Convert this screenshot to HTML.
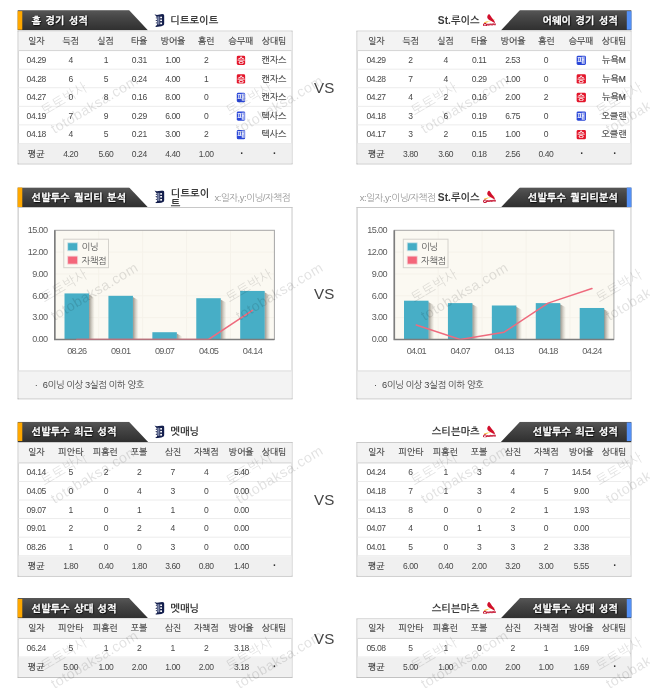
<!DOCTYPE html>
<html lang="ko"><head><meta charset="utf-8"><title>선발투수 분석</title>
<style>
html,body{margin:0;padding:0;background:#fff;}
body{width:650px;height:694px;overflow:hidden;position:relative;font-family:"Liberation Sans","NanumGothic","Noto Sans CJK KR",sans-serif;}
#w{position:absolute;left:0;top:0;width:700px;height:748px;transform:scale(.928571);transform-origin:0 0;}
.p{position:absolute;width:296.5px;}
.tab{position:absolute;left:0;top:-.3px;width:296.5px;height:21.9px;}
.tab i{position:absolute;top:0;height:21.9px;background:linear-gradient(#575757,#484848 30%,#2f2f2f);}
.l .tab i{left:0;width:141px;clip-path:polygon(0 0,120.4px 0,141px 21.9px,0 21.9px);}
.r .tab i{right:0;width:141px;clip-path:polygon(20.6px 0,141px 0,141px 21.9px,0 21.9px);}
.tab b{position:absolute;top:.9px;width:4.9px;height:20.5px;}
.l .tab b{left:.5px;background:#ffa800;}
.r .tab b{right:.4px;background:#5390f6;}
.tab em{position:absolute;top:0;height:21.6px;line-height:22.4px;font-style:normal;font-weight:bold;font-size:10.6px;color:#fff;white-space:nowrap;text-shadow:0 0 2px #000,1px 1px 1px #111;letter-spacing:.3px;word-spacing:1.5px;-webkit-text-stroke:.35px #fff;}
.l .tab em{left:15.6px;}
.r .tab em{right:14.8px;}
.tm{position:absolute;top:0;height:21.6px;line-height:22px;font-weight:bold;font-size:11px;color:#3a3a3a;white-space:nowrap;}
.l .tm{left:164.9px;}
.r .tm{right:163.8px;}
.lg{position:absolute;top:3.5px;}
.l .lg{left:147.3px;}
.r .lg{right:146px;}
.t{position:absolute;left:0;top:21.5px;width:294.5px;border:1px solid #b9b9b9;border-top-color:#c4c4c4;border-right-color:#c4c4c4;background:#fff;}
.t div{position:relative;box-sizing:border-box;}
.h{height:21.8px;background:#f3f3f3;border-bottom:1px solid #d2d2d2;}
.d{height:20px;border-bottom:1px solid #ebebeb;}
.a{height:21px;background:#f0f0f0;}
.t span{position:absolute;top:0;width:60px;margin-left:-30px;text-align:center;font-size:9.6px;color:#404040;white-space:nowrap;-webkit-text-stroke:.18px #404040;}
.t .dt{font-size:11px;font-weight:bold;line-height:21px;padding-left:1px;-webkit-text-stroke:0;color:#333;}
.t i{font-style:normal;font-size:9.1px;}
.t .n{font-size:9.7px;letter-spacing:-.5px;transform:scaleX(.95);color:#484848;-webkit-text-stroke:0;}
.h span{line-height:20.2px;color:#444;font-size:9.5px;}
.d span{line-height:19.5px;}
.a span{line-height:21px;}
.t u{position:absolute;top:4.5px;width:9.4px;height:9.8px;margin-left:-4.7px;border-radius:1.5px;text-decoration:none;color:#fff;font-size:8.4px;line-height:10.8px;text-align:center;font-weight:bold;overflow:hidden;}
.w{background:#e3162b;}
.x{background:#2a47d8;}
.vs{position:absolute;left:325px;width:50px;margin-left:-.5px;text-align:center;font-size:16.3px;line-height:20px;color:#444;font-family:"Liberation Sans",sans-serif;}
.box{position:absolute;left:0;top:21.5px;width:294.5px;height:205.1px;border:1px solid #b9b9b9;border-top-color:#c4c4c4;border-right-color:#c4c4c4;background:#fff;}
.ft{position:absolute;left:0;bottom:0;width:100%;height:29.5px;background:#f3f3f3;border-top:1px solid #dcdcdc;font-size:10px;line-height:29.5px;color:#444;letter-spacing:-.45px;}
.ft s{position:absolute;left:18px;text-decoration:none;}
.ft span{position:absolute;left:26.5px;white-space:nowrap;}
.xy{position:absolute;top:0;height:21.6px;line-height:22px;font-size:10.2px;color:#9a9a9a;white-space:nowrap;letter-spacing:-.55px;}
.l .xy{left:212.5px;}
.r .xy{left:3.5px;}
.tm2{position:absolute;font-weight:bold;font-size:11px;color:#3a3a3a;line-height:10.8px;word-break:break-all;}
#c{position:absolute;left:0;top:0;}
#c text{font-family:"Liberation Sans","NanumGothic","Noto Sans CJK KR",sans-serif;}
.wm{position:absolute;color:#000;opacity:.13;white-space:nowrap;transform-origin:0 0;transform:rotate(-34deg);font-size:13px;line-height:16px;}
</style></head>
<body>
<div id="w">
<div class="p l" style="left:18.5px;top:11.2px"><div class="tab"><i></i><b></b><em>홈 경기 성적</em></div><svg class="lg" width="11.2" height="14" viewBox="0 0 240 300"><path d="M6 6 L64 22 L186 4 C226 4 240 32 240 64 L240 214 C240 250 206 272 166 284 L46 299 L26 286 L66 258 L66 222 L30 208 L66 192 L66 166 L24 150 L66 132 L66 106 L30 92 L66 76 Z" fill="#141f4d"/><rect x="76" y="58" width="46" height="186" fill="#98a0bd"/><rect x="96" y="58" width="8" height="186" fill="#4a5580"/><rect x="140" y="64" width="42" height="36" fill="#fff"/><rect x="140" y="130" width="42" height="36" fill="#fff"/><rect x="140" y="198" width="42" height="40" fill="#fff"/></svg><div class="tm">디트로이트</div><div class="t"><div class="h"><span style="left:19.55px">일자</span><span style="left:56.70px">득점</span><span style="left:94.05px">실점</span><span style="left:130.15px">타율</span><span style="left:166.75px">방어율</span><span style="left:202.75px">홈런</span><span style="left:240.10px">승무패</span><span style="left:275.45px">상대팀</span></div><div class="d"><span class="n" style="left:19.55px">04.29</span><span class="n" style="left:56.70px">4</span><span class="n" style="left:94.05px">1</span><span class="n" style="left:130.15px">0.31</span><span class="n" style="left:166.75px">1.00</span><span class="n" style="left:202.75px">2</span><u class="w" style="left:240.10px">승</u><span style="left:275.45px">캔자스</span></div><div class="d"><span class="n" style="left:19.55px">04.28</span><span class="n" style="left:56.70px">6</span><span class="n" style="left:94.05px">5</span><span class="n" style="left:130.15px">0.24</span><span class="n" style="left:166.75px">4.00</span><span class="n" style="left:202.75px">1</span><u class="w" style="left:240.10px">승</u><span style="left:275.45px">캔자스</span></div><div class="d"><span class="n" style="left:19.55px">04.27</span><span class="n" style="left:56.70px">0</span><span class="n" style="left:94.05px">8</span><span class="n" style="left:130.15px">0.16</span><span class="n" style="left:166.75px">8.00</span><span class="n" style="left:202.75px">0</span><u class="x" style="left:240.10px">패</u><span style="left:275.45px">캔자스</span></div><div class="d"><span class="n" style="left:19.55px">04.19</span><span class="n" style="left:56.70px">7</span><span class="n" style="left:94.05px">9</span><span class="n" style="left:130.15px">0.29</span><span class="n" style="left:166.75px">6.00</span><span class="n" style="left:202.75px">0</span><u class="x" style="left:240.10px">패</u><span style="left:275.45px">텍사스</span></div><div class="d"><span class="n" style="left:19.55px">04.18</span><span class="n" style="left:56.70px">4</span><span class="n" style="left:94.05px">5</span><span class="n" style="left:130.15px">0.21</span><span class="n" style="left:166.75px">3.00</span><span class="n" style="left:202.75px">2</span><u class="x" style="left:240.10px">패</u><span style="left:275.45px">텍사스</span></div><div class="a"><span style="left:19.55px">평균</span><span class="n" style="left:56.70px">4.20</span><span class="n" style="left:94.05px">5.60</span><span class="n" style="left:130.15px">0.24</span><span class="n" style="left:166.75px">4.40</span><span class="n" style="left:202.75px">1.00</span><span class="dt" style="left:240.10px">·</span><span class="dt" style="left:275.45px">·</span></div></div></div>
<div class="p r" style="left:383.9px;top:11.2px"><div class="tab"><i></i><b></b><em>어웨이 경기 성적</em></div><svg class="lg" width="14.4" height="13.5" viewBox="0 0 310 290"><path d="M28 205 L272 128" stroke="#f4d94a" stroke-width="12" fill="none"/><path d="M28 205 L110 180" stroke="#f2ae1d" stroke-width="18" fill="none"/><path d="M146 2 C122 12 100 40 102 78 C104 108 132 130 164 148 C204 170 240 190 284 216 L268 164 C250 138 226 110 208 88 C188 60 172 30 146 2 Z" fill="#d10f2c"/><path d="M70 224 C22 210 -6 262 36 280 C60 288 80 274 88 258" stroke="#c4122f" stroke-width="24" fill="none" stroke-linecap="round"/><path d="M84 252 C110 234 130 262 156 246 C180 232 200 256 226 242 C250 230 272 248 298 240" stroke="#c4122f" stroke-width="42" fill="none" stroke-linecap="round" opacity=".85"/></svg><div class="tm">St.루이스</div><div class="t"><div class="h"><span style="left:20.40px">일자</span><span style="left:57.55px">득점</span><span style="left:94.90px">실점</span><span style="left:131.00px">타율</span><span style="left:167.60px">방어율</span><span style="left:203.60px">홈런</span><span style="left:240.95px">승무패</span><span style="left:276.30px">상대팀</span></div><div class="d"><span class="n" style="left:20.40px">04.29</span><span class="n" style="left:57.55px">2</span><span class="n" style="left:94.90px">4</span><span class="n" style="left:131.00px">0.11</span><span class="n" style="left:167.60px">2.53</span><span class="n" style="left:203.60px">0</span><u class="x" style="left:240.95px">패</u><span style="left:276.30px">뉴욕<i>M</i></span></div><div class="d"><span class="n" style="left:20.40px">04.28</span><span class="n" style="left:57.55px">7</span><span class="n" style="left:94.90px">4</span><span class="n" style="left:131.00px">0.29</span><span class="n" style="left:167.60px">1.00</span><span class="n" style="left:203.60px">0</span><u class="w" style="left:240.95px">승</u><span style="left:276.30px">뉴욕<i>M</i></span></div><div class="d"><span class="n" style="left:20.40px">04.27</span><span class="n" style="left:57.55px">4</span><span class="n" style="left:94.90px">2</span><span class="n" style="left:131.00px">0.16</span><span class="n" style="left:167.60px">2.00</span><span class="n" style="left:203.60px">2</span><u class="w" style="left:240.95px">승</u><span style="left:276.30px">뉴욕<i>M</i></span></div><div class="d"><span class="n" style="left:20.40px">04.18</span><span class="n" style="left:57.55px">3</span><span class="n" style="left:94.90px">6</span><span class="n" style="left:131.00px">0.19</span><span class="n" style="left:167.60px">6.75</span><span class="n" style="left:203.60px">0</span><u class="x" style="left:240.95px">패</u><span style="left:276.30px">오클랜</span></div><div class="d"><span class="n" style="left:20.40px">04.17</span><span class="n" style="left:57.55px">3</span><span class="n" style="left:94.90px">2</span><span class="n" style="left:131.00px">0.15</span><span class="n" style="left:167.60px">1.00</span><span class="n" style="left:203.60px">0</span><u class="w" style="left:240.95px">승</u><span style="left:276.30px">오클랜</span></div><div class="a"><span style="left:20.40px">평균</span><span class="n" style="left:57.55px">3.80</span><span class="n" style="left:94.90px">3.60</span><span class="n" style="left:131.00px">0.18</span><span class="n" style="left:167.60px">2.56</span><span class="n" style="left:203.60px">0.40</span><span class="dt" style="left:240.95px">·</span><span class="dt" style="left:276.30px">·</span></div></div></div>
<div class="p l" style="left:18.5px;top:454.4px"><div class="tab"><i></i><b></b><em>선발투수 최근 성적</em></div><svg class="lg" width="11.2" height="14" viewBox="0 0 240 300"><path d="M6 6 L64 22 L186 4 C226 4 240 32 240 64 L240 214 C240 250 206 272 166 284 L46 299 L26 286 L66 258 L66 222 L30 208 L66 192 L66 166 L24 150 L66 132 L66 106 L30 92 L66 76 Z" fill="#141f4d"/><rect x="76" y="58" width="46" height="186" fill="#98a0bd"/><rect x="96" y="58" width="8" height="186" fill="#4a5580"/><rect x="140" y="64" width="42" height="36" fill="#fff"/><rect x="140" y="130" width="42" height="36" fill="#fff"/><rect x="140" y="198" width="42" height="40" fill="#fff"/></svg><div class="tm">멧매닝</div><div class="t"><div class="h"><span style="left:19.55px">일자</span><span style="left:56.70px">피안타</span><span style="left:94.05px">피홈런</span><span style="left:130.15px">포볼</span><span style="left:166.75px">삼진</span><span style="left:202.75px">자책점</span><span style="left:240.10px">방어율</span><span style="left:275.45px">상대팀</span></div><div class="d"><span class="n" style="left:19.55px">04.14</span><span class="n" style="left:56.70px">5</span><span class="n" style="left:94.05px">2</span><span class="n" style="left:130.15px">2</span><span class="n" style="left:166.75px">7</span><span class="n" style="left:202.75px">4</span><span class="n" style="left:240.10px">5.40</span></div><div class="d"><span class="n" style="left:19.55px">04.05</span><span class="n" style="left:56.70px">0</span><span class="n" style="left:94.05px">0</span><span class="n" style="left:130.15px">4</span><span class="n" style="left:166.75px">3</span><span class="n" style="left:202.75px">0</span><span class="n" style="left:240.10px">0.00</span></div><div class="d"><span class="n" style="left:19.55px">09.07</span><span class="n" style="left:56.70px">1</span><span class="n" style="left:94.05px">0</span><span class="n" style="left:130.15px">1</span><span class="n" style="left:166.75px">1</span><span class="n" style="left:202.75px">0</span><span class="n" style="left:240.10px">0.00</span></div><div class="d"><span class="n" style="left:19.55px">09.01</span><span class="n" style="left:56.70px">2</span><span class="n" style="left:94.05px">0</span><span class="n" style="left:130.15px">2</span><span class="n" style="left:166.75px">4</span><span class="n" style="left:202.75px">0</span><span class="n" style="left:240.10px">0.00</span></div><div class="d"><span class="n" style="left:19.55px">08.26</span><span class="n" style="left:56.70px">1</span><span class="n" style="left:94.05px">0</span><span class="n" style="left:130.15px">0</span><span class="n" style="left:166.75px">3</span><span class="n" style="left:202.75px">0</span><span class="n" style="left:240.10px">0.00</span></div><div class="a"><span style="left:19.55px">평균</span><span class="n" style="left:56.70px">1.80</span><span class="n" style="left:94.05px">0.40</span><span class="n" style="left:130.15px">1.80</span><span class="n" style="left:166.75px">3.60</span><span class="n" style="left:202.75px">0.80</span><span class="n" style="left:240.10px">1.40</span><span class="dt" style="left:275.45px">·</span></div></div></div>
<div class="p r" style="left:383.9px;top:454.4px"><div class="tab"><i></i><b></b><em>선발투수 최근 성적</em></div><svg class="lg" width="14.4" height="13.5" viewBox="0 0 310 290"><path d="M28 205 L272 128" stroke="#f4d94a" stroke-width="12" fill="none"/><path d="M28 205 L110 180" stroke="#f2ae1d" stroke-width="18" fill="none"/><path d="M146 2 C122 12 100 40 102 78 C104 108 132 130 164 148 C204 170 240 190 284 216 L268 164 C250 138 226 110 208 88 C188 60 172 30 146 2 Z" fill="#d10f2c"/><path d="M70 224 C22 210 -6 262 36 280 C60 288 80 274 88 258" stroke="#c4122f" stroke-width="24" fill="none" stroke-linecap="round"/><path d="M84 252 C110 234 130 262 156 246 C180 232 200 256 226 242 C250 230 272 248 298 240" stroke="#c4122f" stroke-width="42" fill="none" stroke-linecap="round" opacity=".85"/></svg><div class="tm">스티븐마츠</div><div class="t"><div class="h"><span style="left:20.40px">일자</span><span style="left:57.55px">피안타</span><span style="left:94.90px">피홈런</span><span style="left:131.00px">포볼</span><span style="left:167.60px">삼진</span><span style="left:203.60px">자책점</span><span style="left:240.95px">방어율</span><span style="left:276.30px">상대팀</span></div><div class="d"><span class="n" style="left:20.40px">04.24</span><span class="n" style="left:57.55px">6</span><span class="n" style="left:94.90px">1</span><span class="n" style="left:131.00px">3</span><span class="n" style="left:167.60px">4</span><span class="n" style="left:203.60px">7</span><span class="n" style="left:240.95px">14.54</span></div><div class="d"><span class="n" style="left:20.40px">04.18</span><span class="n" style="left:57.55px">7</span><span class="n" style="left:94.90px">1</span><span class="n" style="left:131.00px">3</span><span class="n" style="left:167.60px">4</span><span class="n" style="left:203.60px">5</span><span class="n" style="left:240.95px">9.00</span></div><div class="d"><span class="n" style="left:20.40px">04.13</span><span class="n" style="left:57.55px">8</span><span class="n" style="left:94.90px">0</span><span class="n" style="left:131.00px">0</span><span class="n" style="left:167.60px">2</span><span class="n" style="left:203.60px">1</span><span class="n" style="left:240.95px">1.93</span></div><div class="d"><span class="n" style="left:20.40px">04.07</span><span class="n" style="left:57.55px">4</span><span class="n" style="left:94.90px">0</span><span class="n" style="left:131.00px">1</span><span class="n" style="left:167.60px">3</span><span class="n" style="left:203.60px">0</span><span class="n" style="left:240.95px">0.00</span></div><div class="d"><span class="n" style="left:20.40px">04.01</span><span class="n" style="left:57.55px">5</span><span class="n" style="left:94.90px">0</span><span class="n" style="left:131.00px">3</span><span class="n" style="left:167.60px">3</span><span class="n" style="left:203.60px">2</span><span class="n" style="left:240.95px">3.38</span></div><div class="a"><span style="left:20.40px">평균</span><span class="n" style="left:57.55px">6.00</span><span class="n" style="left:94.90px">0.40</span><span class="n" style="left:131.00px">2.00</span><span class="n" style="left:167.60px">3.20</span><span class="n" style="left:203.60px">3.00</span><span class="n" style="left:240.95px">5.55</span><span class="dt" style="left:276.30px">·</span></div></div></div>
<div class="p l" style="left:18.5px;top:644.2px"><div class="tab"><i></i><b></b><em>선발투수 상대 성적</em></div><svg class="lg" width="11.2" height="14" viewBox="0 0 240 300"><path d="M6 6 L64 22 L186 4 C226 4 240 32 240 64 L240 214 C240 250 206 272 166 284 L46 299 L26 286 L66 258 L66 222 L30 208 L66 192 L66 166 L24 150 L66 132 L66 106 L30 92 L66 76 Z" fill="#141f4d"/><rect x="76" y="58" width="46" height="186" fill="#98a0bd"/><rect x="96" y="58" width="8" height="186" fill="#4a5580"/><rect x="140" y="64" width="42" height="36" fill="#fff"/><rect x="140" y="130" width="42" height="36" fill="#fff"/><rect x="140" y="198" width="42" height="40" fill="#fff"/></svg><div class="tm">멧매닝</div><div class="t"><div class="h"><span style="left:19.55px">일자</span><span style="left:56.70px">피안타</span><span style="left:94.05px">피홈런</span><span style="left:130.15px">포볼</span><span style="left:166.75px">삼진</span><span style="left:202.75px">자책점</span><span style="left:240.10px">방어율</span><span style="left:275.45px">상대팀</span></div><div class="d"><span class="n" style="left:19.55px">06.24</span><span class="n" style="left:56.70px">5</span><span class="n" style="left:94.05px">1</span><span class="n" style="left:130.15px">2</span><span class="n" style="left:166.75px">1</span><span class="n" style="left:202.75px">2</span><span class="n" style="left:240.10px">3.18</span></div><div class="a"><span style="left:19.55px">평균</span><span class="n" style="left:56.70px">5.00</span><span class="n" style="left:94.05px">1.00</span><span class="n" style="left:130.15px">2.00</span><span class="n" style="left:166.75px">1.00</span><span class="n" style="left:202.75px">2.00</span><span class="n" style="left:240.10px">3.18</span><span class="dt" style="left:275.45px">·</span></div></div></div>
<div class="p r" style="left:383.9px;top:644.2px"><div class="tab"><i></i><b></b><em>선발투수 상대 성적</em></div><svg class="lg" width="14.4" height="13.5" viewBox="0 0 310 290"><path d="M28 205 L272 128" stroke="#f4d94a" stroke-width="12" fill="none"/><path d="M28 205 L110 180" stroke="#f2ae1d" stroke-width="18" fill="none"/><path d="M146 2 C122 12 100 40 102 78 C104 108 132 130 164 148 C204 170 240 190 284 216 L268 164 C250 138 226 110 208 88 C188 60 172 30 146 2 Z" fill="#d10f2c"/><path d="M70 224 C22 210 -6 262 36 280 C60 288 80 274 88 258" stroke="#c4122f" stroke-width="24" fill="none" stroke-linecap="round"/><path d="M84 252 C110 234 130 262 156 246 C180 232 200 256 226 242 C250 230 272 248 298 240" stroke="#c4122f" stroke-width="42" fill="none" stroke-linecap="round" opacity=".85"/></svg><div class="tm">스티븐마츠</div><div class="t"><div class="h"><span style="left:20.40px">일자</span><span style="left:57.55px">피안타</span><span style="left:94.90px">피홈런</span><span style="left:131.00px">포볼</span><span style="left:167.60px">삼진</span><span style="left:203.60px">자책점</span><span style="left:240.95px">방어율</span><span style="left:276.30px">상대팀</span></div><div class="d"><span class="n" style="left:20.40px">05.08</span><span class="n" style="left:57.55px">5</span><span class="n" style="left:94.90px">1</span><span class="n" style="left:131.00px">0</span><span class="n" style="left:167.60px">2</span><span class="n" style="left:203.60px">1</span><span class="n" style="left:240.95px">1.69</span></div><div class="a"><span style="left:20.40px">평균</span><span class="n" style="left:57.55px">5.00</span><span class="n" style="left:94.90px">1.00</span><span class="n" style="left:131.00px">0.00</span><span class="n" style="left:167.60px">2.00</span><span class="n" style="left:203.60px">1.00</span><span class="n" style="left:240.95px">1.69</span><span class="dt" style="left:276.30px">·</span></div></div></div>
<div class="p l" style="left:18.5px;top:201.9px"><div class="tab"><i></i><b></b><em>선발투수 퀄리티 분석</em></div><svg class="lg" width="11.2" height="14" viewBox="0 0 240 300"><path d="M6 6 L64 22 L186 4 C226 4 240 32 240 64 L240 214 C240 250 206 272 166 284 L46 299 L26 286 L66 258 L66 222 L30 208 L66 192 L66 166 L24 150 L66 132 L66 106 L30 92 L66 76 Z" fill="#141f4d"/><rect x="76" y="58" width="46" height="186" fill="#98a0bd"/><rect x="96" y="58" width="8" height="186" fill="#4a5580"/><rect x="140" y="64" width="42" height="36" fill="#fff"/><rect x="140" y="130" width="42" height="36" fill="#fff"/><rect x="140" y="198" width="42" height="40" fill="#fff"/></svg><div class="tm2" style="left:165.5px;top:.9px;width:46px;">디트로이트</div><div class="xy">x:일자,y:이닝/자책점</div><div class="box"><div class="ft"><s>·</s><span>6이닝 이상 3실점 이하 양호</span></div></div></div>
<div class="p r" style="left:383.9px;top:201.9px"><div class="tab"><i></i><b></b><em>선발투수 퀄리티분석</em></div><svg class="lg" width="14.4" height="13.5" viewBox="0 0 310 290"><path d="M28 205 L272 128" stroke="#f4d94a" stroke-width="12" fill="none"/><path d="M28 205 L110 180" stroke="#f2ae1d" stroke-width="18" fill="none"/><path d="M146 2 C122 12 100 40 102 78 C104 108 132 130 164 148 C204 170 240 190 284 216 L268 164 C250 138 226 110 208 88 C188 60 172 30 146 2 Z" fill="#d10f2c"/><path d="M70 224 C22 210 -6 262 36 280 C60 288 80 274 88 258" stroke="#c4122f" stroke-width="24" fill="none" stroke-linecap="round"/><path d="M84 252 C110 234 130 262 156 246 C180 232 200 256 226 242 C250 230 272 248 298 240" stroke="#c4122f" stroke-width="42" fill="none" stroke-linecap="round" opacity=".85"/></svg><div class="tm">St.루이스</div><div class="xy">x:일자,y:이닝/자책점</div><div class="box"><div class="ft"><s>·</s><span>6이닝 이상 3실점 이하 양호</span></div></div></div>
<div class="vs" style="left:324.6px;top:83.6px">VS</div>
<div class="vs" style="left:324.6px;top:305.9px">VS</div>
<div class="vs" style="left:324.6px;top:527.5px">VS</div>
<div class="vs" style="left:324.6px;top:678.0px">VS</div>
</div>
<svg id="c" width="650" height="694" viewBox="0 0 650 694"><defs><linearGradient id="sh" x1="0" y1="0" x2="1" y2="0"><stop offset="0" stop-color="#5a544a" stop-opacity=".62"/><stop offset=".35" stop-color="#7d766a" stop-opacity=".45"/><stop offset=".7" stop-color="#a8a194" stop-opacity=".25"/><stop offset="1" stop-color="#c8c2b6" stop-opacity="0"/></linearGradient></defs><rect x="54.80" y="230.30" width="219.60" height="109.20" fill="#fbf9f2"/><line x1="98.72" y1="230.30" x2="98.72" y2="339.50" stroke="#f5f2ea" stroke-width="1"/><line x1="54.80" y1="317.66" x2="274.40" y2="317.66" stroke="#f5f2ea" stroke-width="1"/><line x1="142.64" y1="230.30" x2="142.64" y2="339.50" stroke="#f5f2ea" stroke-width="1"/><line x1="54.80" y1="295.82" x2="274.40" y2="295.82" stroke="#f5f2ea" stroke-width="1"/><line x1="186.56" y1="230.30" x2="186.56" y2="339.50" stroke="#f5f2ea" stroke-width="1"/><line x1="54.80" y1="273.98" x2="274.40" y2="273.98" stroke="#f5f2ea" stroke-width="1"/><line x1="230.48" y1="230.30" x2="230.48" y2="339.50" stroke="#f5f2ea" stroke-width="1"/><line x1="54.80" y1="252.14" x2="274.40" y2="252.14" stroke="#f5f2ea" stroke-width="1"/><rect x="63.80" y="239.20" width="44.7" height="28.5" fill="#fbf9f2" stroke="#d4d2cc" stroke-width="1"/><rect x="67.70" y="242.8" width="10" height="8" fill="#43adc5" stroke="#cfe3e8" stroke-width=".8"/><rect x="67.70" y="256.1" width="10" height="8" fill="#f4667a" stroke="#f3d6da" stroke-width=".8"/><text x="81.40" y="250.3" font-size="9.2" fill="#555" letter-spacing="-.4">이닝</text><text x="81.40" y="263.6" font-size="9.2" fill="#555" letter-spacing="-.4">자책점</text><polygon points="88.81,294.62 94.81,297.92 94.81,339.50 88.81,339.50" fill="url(#sh)"/><rect x="64.51" y="293.42" width="24.5" height="46.08" fill="#47aec6"/><polygon points="132.73,297.02 138.73,300.32 138.73,339.50 132.73,339.50" fill="url(#sh)"/><rect x="108.43" y="295.82" width="24.5" height="43.68" fill="#47aec6"/><polygon points="176.65,333.42 182.65,336.72 182.65,339.50 176.65,339.50" fill="url(#sh)"/><rect x="152.35" y="332.22" width="24.5" height="7.28" fill="#47aec6"/><polygon points="220.57,299.42 226.57,302.72 226.57,339.50 220.57,339.50" fill="url(#sh)"/><rect x="196.27" y="298.22" width="24.5" height="41.28" fill="#47aec6"/><polygon points="264.49,292.14 270.49,295.44 270.49,339.50 264.49,339.50" fill="url(#sh)"/><rect x="240.19" y="290.94" width="24.5" height="48.56" fill="#47aec6"/><rect x="54.80" y="230.30" width="219.60" height="109.20" fill="none" stroke="#a6a6a6" stroke-width="1"/><path d="M54.80 230.30 V339.50 H274.40" fill="none" stroke="#7d7d7d" stroke-width="1.6"/><svg x="54.80" y="230.30" width="219.60" height="109.20" viewBox="54.80 230.30 219.60 109.20"><path d="M76.76 339.50 L120.68 339.50 L164.60 339.50 L208.52 339.50 L252.44 310.38" fill="none" stroke="#ee6b7e" stroke-width="1.5" stroke-linejoin="round" stroke-linecap="round"/></svg><text x="47.50" y="342.20" text-anchor="end" font-size="9.1" fill="#5c5c5c" letter-spacing="-.6">0.00</text><text x="47.50" y="320.36" text-anchor="end" font-size="9.1" fill="#5c5c5c" letter-spacing="-.6">3.00</text><text x="47.50" y="298.52" text-anchor="end" font-size="9.1" fill="#5c5c5c" letter-spacing="-.6">6.00</text><text x="47.50" y="276.68" text-anchor="end" font-size="9.1" fill="#5c5c5c" letter-spacing="-.6">9.00</text><text x="47.50" y="254.84" text-anchor="end" font-size="9.1" fill="#5c5c5c" letter-spacing="-.6">12.00</text><text x="47.50" y="233.00" text-anchor="end" font-size="9.1" fill="#5c5c5c" letter-spacing="-.6">15.00</text><text x="76.76" y="354.3" text-anchor="middle" font-size="9.2" fill="#5c5c5c" letter-spacing="-.75">08.26</text><text x="120.68" y="354.3" text-anchor="middle" font-size="9.2" fill="#5c5c5c" letter-spacing="-.75">09.01</text><text x="164.60" y="354.3" text-anchor="middle" font-size="9.2" fill="#5c5c5c" letter-spacing="-.75">09.07</text><text x="208.52" y="354.3" text-anchor="middle" font-size="9.2" fill="#5c5c5c" letter-spacing="-.75">04.05</text><text x="252.44" y="354.3" text-anchor="middle" font-size="9.2" fill="#5c5c5c" letter-spacing="-.75">04.14</text><rect x="394.30" y="230.30" width="219.60" height="109.20" fill="#fbf9f2"/><line x1="438.22" y1="230.30" x2="438.22" y2="339.50" stroke="#f5f2ea" stroke-width="1"/><line x1="394.30" y1="317.66" x2="613.90" y2="317.66" stroke="#f5f2ea" stroke-width="1"/><line x1="482.14" y1="230.30" x2="482.14" y2="339.50" stroke="#f5f2ea" stroke-width="1"/><line x1="394.30" y1="295.82" x2="613.90" y2="295.82" stroke="#f5f2ea" stroke-width="1"/><line x1="526.06" y1="230.30" x2="526.06" y2="339.50" stroke="#f5f2ea" stroke-width="1"/><line x1="394.30" y1="273.98" x2="613.90" y2="273.98" stroke="#f5f2ea" stroke-width="1"/><line x1="569.98" y1="230.30" x2="569.98" y2="339.50" stroke="#f5f2ea" stroke-width="1"/><line x1="394.30" y1="252.14" x2="613.90" y2="252.14" stroke="#f5f2ea" stroke-width="1"/><rect x="403.30" y="239.20" width="44.7" height="28.5" fill="#fbf9f2" stroke="#d4d2cc" stroke-width="1"/><rect x="407.20" y="242.8" width="10" height="8" fill="#43adc5" stroke="#cfe3e8" stroke-width=".8"/><rect x="407.20" y="256.1" width="10" height="8" fill="#f4667a" stroke="#f3d6da" stroke-width=".8"/><text x="420.90" y="250.3" font-size="9.2" fill="#555" letter-spacing="-.4">이닝</text><text x="420.90" y="263.6" font-size="9.2" fill="#555" letter-spacing="-.4">자책점</text><polygon points="428.31,301.90 434.31,305.20 434.31,339.50 428.31,339.50" fill="url(#sh)"/><rect x="404.01" y="300.70" width="24.5" height="38.80" fill="#47aec6"/><polygon points="472.23,304.30 478.23,307.60 478.23,339.50 472.23,339.50" fill="url(#sh)"/><rect x="447.93" y="303.10" width="24.5" height="36.40" fill="#47aec6"/><polygon points="516.15,306.70 522.15,310.00 522.15,339.50 516.15,339.50" fill="url(#sh)"/><rect x="491.85" y="305.50" width="24.5" height="34.00" fill="#47aec6"/><polygon points="560.07,304.30 566.07,307.60 566.07,339.50 560.07,339.50" fill="url(#sh)"/><rect x="535.77" y="303.10" width="24.5" height="36.40" fill="#47aec6"/><polygon points="603.99,309.18 609.99,312.48 609.99,339.50 603.99,339.50" fill="url(#sh)"/><rect x="579.69" y="307.98" width="24.5" height="31.52" fill="#47aec6"/><rect x="394.30" y="230.30" width="219.60" height="109.20" fill="none" stroke="#a6a6a6" stroke-width="1"/><path d="M394.30 230.30 V339.50 H613.90" fill="none" stroke="#7d7d7d" stroke-width="1.6"/><svg x="394.30" y="230.30" width="219.60" height="109.20" viewBox="394.30 230.30 219.60 109.20"><path d="M416.26 324.94 L460.18 339.50 L504.10 332.22 L548.02 303.10 L591.94 288.54" fill="none" stroke="#ee6b7e" stroke-width="1.5" stroke-linejoin="round" stroke-linecap="round"/></svg><text x="387.00" y="342.20" text-anchor="end" font-size="9.1" fill="#5c5c5c" letter-spacing="-.6">0.00</text><text x="387.00" y="320.36" text-anchor="end" font-size="9.1" fill="#5c5c5c" letter-spacing="-.6">3.00</text><text x="387.00" y="298.52" text-anchor="end" font-size="9.1" fill="#5c5c5c" letter-spacing="-.6">6.00</text><text x="387.00" y="276.68" text-anchor="end" font-size="9.1" fill="#5c5c5c" letter-spacing="-.6">9.00</text><text x="387.00" y="254.84" text-anchor="end" font-size="9.1" fill="#5c5c5c" letter-spacing="-.6">12.00</text><text x="387.00" y="233.00" text-anchor="end" font-size="9.1" fill="#5c5c5c" letter-spacing="-.6">15.00</text><text x="416.26" y="354.3" text-anchor="middle" font-size="9.2" fill="#5c5c5c" letter-spacing="-.75">04.01</text><text x="460.18" y="354.3" text-anchor="middle" font-size="9.2" fill="#5c5c5c" letter-spacing="-.75">04.07</text><text x="504.10" y="354.3" text-anchor="middle" font-size="9.2" fill="#5c5c5c" letter-spacing="-.75">04.13</text><text x="548.02" y="354.3" text-anchor="middle" font-size="9.2" fill="#5c5c5c" letter-spacing="-.75">04.18</text><text x="591.94" y="354.3" text-anchor="middle" font-size="9.2" fill="#5c5c5c" letter-spacing="-.75">04.24</text><g transform="translate(54.5 134.0) rotate(-30.9)" fill="#000" opacity=".115" font-weight="300"><text x="1" y="-20.5" font-size="13.4">토토박사</text><text x="0" y="0" font-size="14.2" letter-spacing=".5">totobaksa.com</text></g><g transform="translate(239.5 134.0) rotate(-30.9)" fill="#000" opacity=".115" font-weight="300"><text x="1" y="-20.5" font-size="13.4">토토박사</text><text x="0" y="0" font-size="14.2" letter-spacing=".5">totobaksa.com</text></g><g transform="translate(424.5 134.0) rotate(-30.9)" fill="#000" opacity=".115" font-weight="300"><text x="1" y="-20.5" font-size="13.4">토토박사</text><text x="0" y="0" font-size="14.2" letter-spacing=".5">totobaksa.com</text></g><g transform="translate(609.5 134.0) rotate(-30.9)" fill="#000" opacity=".115" font-weight="300"><text x="1" y="-20.5" font-size="13.4">토토박사</text><text x="0" y="0" font-size="14.2" letter-spacing=".5">totobaksa.com</text></g><g transform="translate(54.5 321.0) rotate(-30.9)" fill="#000" opacity=".115" font-weight="300"><text x="1" y="-20.5" font-size="13.4">토토박사</text><text x="0" y="0" font-size="14.2" letter-spacing=".5">totobaksa.com</text></g><g transform="translate(239.5 321.0) rotate(-30.9)" fill="#000" opacity=".115" font-weight="300"><text x="1" y="-20.5" font-size="13.4">토토박사</text><text x="0" y="0" font-size="14.2" letter-spacing=".5">totobaksa.com</text></g><g transform="translate(424.5 321.0) rotate(-30.9)" fill="#000" opacity=".115" font-weight="300"><text x="1" y="-20.5" font-size="13.4">토토박사</text><text x="0" y="0" font-size="14.2" letter-spacing=".5">totobaksa.com</text></g><g transform="translate(609.5 321.0) rotate(-30.9)" fill="#000" opacity=".115" font-weight="300"><text x="1" y="-20.5" font-size="13.4">토토박사</text><text x="0" y="0" font-size="14.2" letter-spacing=".5">totobaksa.com</text></g><g transform="translate(54.5 504.0) rotate(-30.9)" fill="#000" opacity=".115" font-weight="300"><text x="1" y="-20.5" font-size="13.4">토토박사</text><text x="0" y="0" font-size="14.2" letter-spacing=".5">totobaksa.com</text></g><g transform="translate(239.5 504.0) rotate(-30.9)" fill="#000" opacity=".115" font-weight="300"><text x="1" y="-20.5" font-size="13.4">토토박사</text><text x="0" y="0" font-size="14.2" letter-spacing=".5">totobaksa.com</text></g><g transform="translate(424.5 504.0) rotate(-30.9)" fill="#000" opacity=".115" font-weight="300"><text x="1" y="-20.5" font-size="13.4">토토박사</text><text x="0" y="0" font-size="14.2" letter-spacing=".5">totobaksa.com</text></g><g transform="translate(609.5 504.0) rotate(-30.9)" fill="#000" opacity=".115" font-weight="300"><text x="1" y="-20.5" font-size="13.4">토토박사</text><text x="0" y="0" font-size="14.2" letter-spacing=".5">totobaksa.com</text></g><g transform="translate(54.5 689.0) rotate(-30.9)" fill="#000" opacity=".115" font-weight="300"><text x="1" y="-20.5" font-size="13.4">토토박사</text><text x="0" y="0" font-size="14.2" letter-spacing=".5">totobaksa.com</text></g><g transform="translate(239.5 689.0) rotate(-30.9)" fill="#000" opacity=".115" font-weight="300"><text x="1" y="-20.5" font-size="13.4">토토박사</text><text x="0" y="0" font-size="14.2" letter-spacing=".5">totobaksa.com</text></g><g transform="translate(424.5 689.0) rotate(-30.9)" fill="#000" opacity=".115" font-weight="300"><text x="1" y="-20.5" font-size="13.4">토토박사</text><text x="0" y="0" font-size="14.2" letter-spacing=".5">totobaksa.com</text></g><g transform="translate(609.5 689.0) rotate(-30.9)" fill="#000" opacity=".115" font-weight="300"><text x="1" y="-20.5" font-size="13.4">토토박사</text><text x="0" y="0" font-size="14.2" letter-spacing=".5">totobaksa.com</text></g></svg>
</body></html>
